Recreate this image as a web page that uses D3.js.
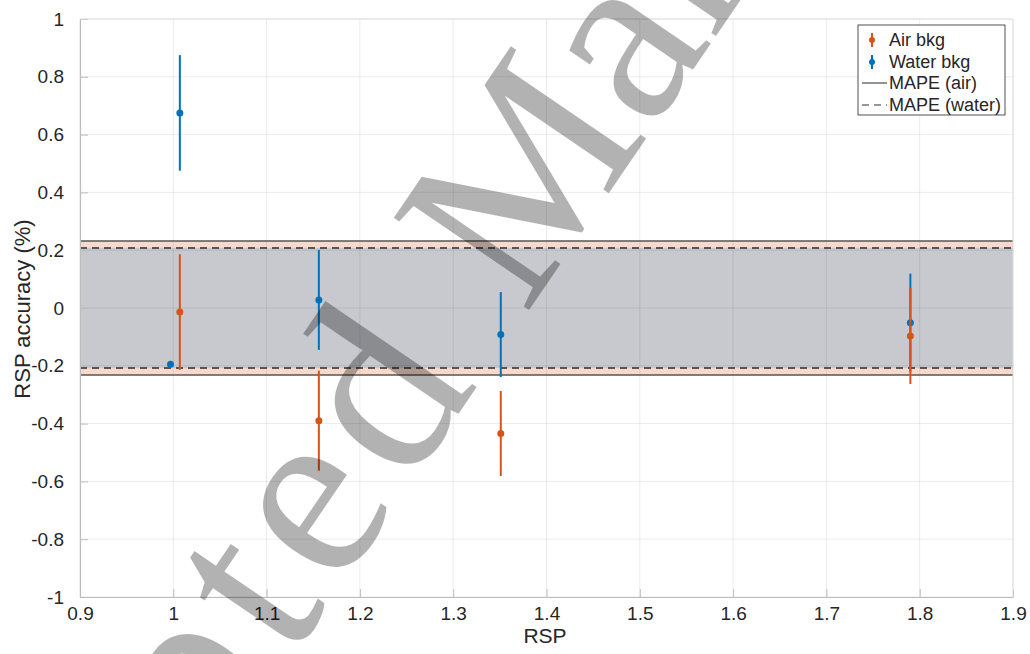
<!DOCTYPE html>
<html>
<head>
<meta charset="utf-8">
<script src="https://cdn.jsdelivr.net/npm/d3@7"></script>
<style>
  body { margin: 0; background: #fff; }
  text { font-family: "Liberation Sans", Arial, sans-serif; fill: #262626; }
  text.wm { font-family: "Liberation Serif", "Times New Roman", serif; font-size: 250px; fill: #000; fill-opacity: 0.3; }
</style>
</head>
<body>
<div id="chart"></div>
<script>
var width = 1030;
var height = 654;

// data
var rspAir = [1.007, 1.156, 1.351, 1.790];
var accAir = [-0.014, -0.39, -0.434, -0.097];
var errAir = [0.2, 0.173, 0.147, 0.166];

var rspWater = [0.997, 1.007, 1.156, 1.351, 1.790];
var accWater = [-0.195, 0.675, 0.028, -0.092, -0.051];
var errWater = [0.01, 0.2, 0.173, 0.147, 0.17];

var mapeAir = 0.232;
var mapeWater = 0.208;

var xTicks = [0.9, 1, 1.1, 1.2, 1.3, 1.4, 1.5, 1.6, 1.7, 1.8, 1.9];
var yTicks = [-1, -0.8, -0.6, -0.4, -0.2, 0, 0.2, 0.4, 0.6, 0.8, 1];

var legendLabels = ["Air bkg", "Water bkg", "MAPE (air)", "MAPE (water)"];

var blue = "#0072BD";
var orange = "#D95319";

var pLeft = 80, pRight = 1013, pTop = 19, pBottom = 597;

var x = d3.scaleLinear().domain([0.9, 1.9]).range([pLeft, pRight]);
var y = d3.scaleLinear().domain([-1, 1]).range([pBottom, pTop]);

var svg = d3.select("#chart")
   .append("svg")
   .attr("width", width)
   .attr("height", height);

// MAPE bands
svg.append("rect")
   .attr("x", x(0.9))
   .attr("y", y(mapeAir))
   .attr("width", x(1.9) - x(0.9))
   .attr("height", y(-mapeAir) - y(mapeAir))
   .attr("fill", "#f8d9cc");

svg.append("rect")
   .attr("x", x(0.9))
   .attr("y", y(mapeWater))
   .attr("width", x(1.9) - x(0.9))
   .attr("height", y(-mapeWater) - y(mapeWater))
   .attr("fill", "#c8c9ce");

// grid
svg.append("g")
   .selectAll("line")
   .data(xTicks)
   .enter()
   .append("line")
   .attr("x1", function(d) { return x(d); })
   .attr("x2", function(d) { return x(d); })
   .attr("y1", pTop)
   .attr("y2", pBottom)
   .attr("stroke", "#000")
   .attr("stroke-opacity", 0.08);

svg.append("g")
   .selectAll("line")
   .data(yTicks)
   .enter()
   .append("line")
   .attr("x1", pLeft)
   .attr("x2", pRight)
   .attr("y1", function(d) { return y(d); })
   .attr("y2", function(d) { return y(d); })
   .attr("stroke", "#000")
   .attr("stroke-opacity", 0.08);

// MAPE lines
[mapeAir, -mapeAir].forEach(function(v) {
   svg.append("line")
      .attr("x1", pLeft).attr("x2", pRight)
      .attr("y1", y(v)).attr("y2", y(v))
      .attr("stroke", "#555")
      .attr("stroke-width", 1.6);
});
[mapeWater, -mapeWater].forEach(function(v) {
   svg.append("line")
      .attr("x1", pLeft).attr("x2", pRight)
      .attr("y1", y(v)).attr("y2", y(v))
      .attr("stroke", "#555")
      .attr("stroke-width", 2)
      .attr("stroke-dasharray", "7,5");
});

// axes
var fmt = function(d) { return String(+d.toFixed(1)); };

var xAxis = d3.axisBottom(x)
   .tickValues(xTicks)
   .tickSizeInner(-8)
   .tickSizeOuter(0)
   .tickPadding(12)
   .tickFormat(fmt);

var yAxis = d3.axisLeft(y)
   .tickValues(yTicks)
   .tickSizeInner(-8)
   .tickSizeOuter(0)
   .tickPadding(16)
   .tickFormat(fmt);

var gx = svg.append("g")
   .attr("transform", "translate(0," + pBottom + ")")
   .call(xAxis);
var gy = svg.append("g")
   .attr("transform", "translate(" + pLeft + ",0)")
   .call(yAxis);

[gx, gy].forEach(function(g) {
   g.select(".domain").attr("stroke", "#bdbdbd").attr("stroke-width", 1.2);
   g.selectAll(".tick line").attr("stroke", "#bdbdbd");
   g.selectAll(".tick text")
      .attr("font-size", "19px")
      .attr("fill", "#262626")
      .style("font-family", "'Liberation Sans', Arial, sans-serif");
});
gx.selectAll(".tick text").attr("dy", "0.6em");

// top / right edge
svg.append("line")
   .attr("x1", pRight).attr("x2", pRight)
   .attr("y1", pTop).attr("y2", pBottom)
   .attr("stroke", "#e0e0e0");
svg.append("line")
   .attr("x1", pLeft).attr("x2", pRight)
   .attr("y1", pTop).attr("y2", pTop)
   .attr("stroke", "#e0e0e0");

// error bars
function drawSeries(xs, ys, es, color) {
   var g = svg.append("g");
   g.selectAll("line")
      .data(xs)
      .enter()
      .append("line")
      .attr("x1", function(d) { return x(d); })
      .attr("x2", function(d) { return x(d); })
      .attr("y1", function(d, i) { return y(ys[i] + es[i]); })
      .attr("y2", function(d, i) { return y(ys[i] - es[i]); })
      .attr("stroke", color)
      .attr("stroke-width", 2);
   g.selectAll("circle")
      .data(xs)
      .enter()
      .append("circle")
      .attr("cx", function(d) { return x(d); })
      .attr("cy", function(d, i) { return y(ys[i]); })
      .attr("r", 3.5)
      .attr("fill", color);
}
drawSeries(rspWater, accWater, errWater, blue);
drawSeries(rspAir, accAir, errAir, orange);

// axis labels
svg.append("text")
   .attr("x", 545)
   .attr("y", 643)
   .attr("text-anchor", "middle")
   .attr("font-size", "21px")
   .text("RSP");

svg.append("text")
   .attr("transform", "translate(30,309) rotate(-90)")
   .attr("text-anchor", "middle")
   .attr("font-size", "22px")
   .text("RSP accuracy (%)");

// legend
var lg = svg.append("g").attr("transform", "translate(858,25)");
lg.append("rect")
   .attr("width", 147)
   .attr("height", 90)
   .attr("fill", "#fff")
   .attr("stroke", "#262626")
   .attr("stroke-width", 0.8);

var rows = [15, 37, 58, 80];
legendLabels.forEach(function(lbl, i) {
   lg.append("text")
      .attr("x", 31)
      .attr("y", rows[i])
      .attr("dy", "0.36em")
      .attr("font-size", "18px")
      .text(lbl);
});
[orange, blue].forEach(function(c, i) {
   lg.append("line")
      .attr("x1", 14).attr("x2", 14)
      .attr("y1", rows[i] - 7).attr("y2", rows[i] + 7)
      .attr("stroke", c).attr("stroke-width", 2);
   lg.append("circle")
      .attr("cx", 14).attr("cy", rows[i]).attr("r", 3)
      .attr("fill", c);
});
lg.append("line")
   .attr("x1", 4).attr("x2", 29)
   .attr("y1", rows[2]).attr("y2", rows[2])
   .attr("stroke", "#777").attr("stroke-width", 1.6);
lg.append("line")
   .attr("x1", 4).attr("x2", 29)
   .attr("y1", rows[3]).attr("y2", rows[3])
   .attr("stroke", "#777").attr("stroke-width", 1.6)
   .attr("stroke-dasharray", "7,5");

// watermark, in two pieces so the spacing before "Manuscript" can be set
svg.append("text")
   .attr("class", "wm")
   .attr("transform", "translate(487,372) rotate(-55.7)")
   .attr("text-anchor", "end")
   .style("letter-spacing", "15px")
   .text("Accepted");
svg.append("text")
   .attr("class", "wm")
   .attr("transform", "translate(525,316) rotate(-55.7)")
   .attr("text-anchor", "start")
   .text("Manuscript");
</script>
</body>
</html>
